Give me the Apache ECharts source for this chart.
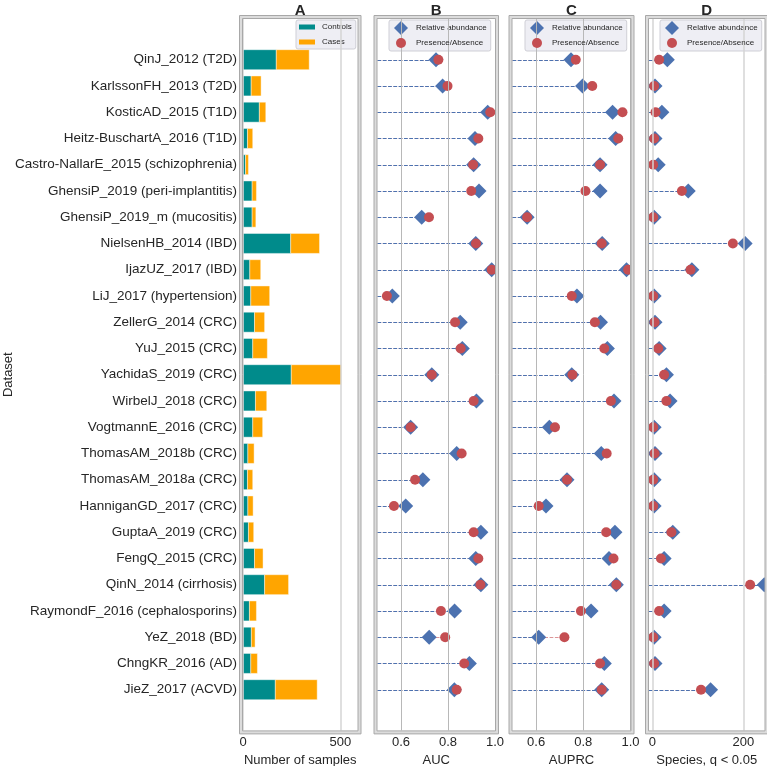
<!DOCTYPE html>
<html><head><meta charset="utf-8">
<script src="https://cdn.jsdelivr.net/npm/echarts@6/dist/echarts.min.js"></script>
<style>html,body{margin:0;padding:0;background:#fff}#c{width:767px;height:766px}</style>
</head><body><div id="c"></div>
<script>
// ---------- data ----------
const datasets = ['QinJ_2012 (T2D)','KarlssonFH_2013 (T2D)','KosticAD_2015 (T1D)','Heitz-BuschartA_2016 (T1D)',
  'Castro-NallarE_2015 (schizophrenia)','GhensiP_2019 (peri-implantitis)','GhensiP_2019_m (mucositis)',
  'NielsenHB_2014 (IBD)','IjazUZ_2017 (IBD)','LiJ_2017 (hypertension)','ZellerG_2014 (CRC)','YuJ_2015 (CRC)',
  'YachidaS_2019 (CRC)','WirbelJ_2018 (CRC)','VogtmannE_2016 (CRC)','ThomasAM_2018b (CRC)','ThomasAM_2018a (CRC)',
  'HanniganGD_2017 (CRC)','GuptaA_2019 (CRC)','FengQ_2015 (CRC)','QinN_2014 (cirrhosis)',
  'RaymondF_2016 (cephalosporins)','YeZ_2018 (BD)','ChngKR_2016 (AD)','JieZ_2017 (ACVD)'];
const controls = [171, 42, 84, 23, 13, 47, 47, 245, 35, 40, 59, 50, 248, 64, 50, 25, 23, 25, 28, 59, 111, 33, 43, 40, 166];
const cases    = [169, 51, 33, 27, 15, 22, 19, 148, 56, 97, 52, 75, 256, 58, 51, 32, 27, 27, 27, 44, 123, 36, 19, 34, 215];
const aucRA = [0.749,0.777,0.969,0.915,0.909,0.932,0.688,0.918,0.986,0.563,0.852,0.861,0.731,0.921,0.641,0.837,0.693,0.620,0.940,0.918,0.940,0.828,0.720,0.891,0.827];
const aucPA = [0.759,0.798,0.980,0.929,0.907,0.899,0.719,0.919,0.986,0.540,0.830,0.854,0.731,0.909,0.641,0.858,0.660,0.570,0.909,0.929,0.938,0.770,0.788,0.869,0.837];
const auprcRA = [0.748,0.797,0.924,0.937,0.871,0.871,0.562,0.880,0.983,0.773,0.873,0.902,0.751,0.930,0.656,0.876,0.731,0.642,0.934,0.909,0.940,0.833,0.611,0.889,0.878];
const auprcPA = [0.768,0.838,0.966,0.948,0.871,0.809,0.562,0.878,0.990,0.751,0.849,0.889,0.754,0.917,0.680,0.899,0.731,0.611,0.897,0.928,0.940,0.790,0.720,0.871,0.878];
const speciesRA = [33, 6, 21, 6, 13, 79, 4, 204, 87, 4, 6, 15, 31, 39, 4, 6, 4, 4, 45, 26, 246, 26, 4, 6, 128];
const speciesPA = [15, 4, 7, 4, 2, 65, 2, 177, 84, 2, 5, 13, 26, 31, 2, 5, 2, 2, 42, 19, 215, 15, 2, 4, 107];
const panelTitles = ['A','B','C','D'];
const xNames = ['Number of samples','AUC','AUPRC','Species, q < 0.05'];
const xTicks = [[0,500],[0.6,0.8,1.0],[0.6,0.8,1.0],[0,200]];
const legendBars = ['Controls','Cases'];
const legendMarks = ['Relative abundance','Presence/Absence'];

// ---------- layout / style ----------
const FONT = "'Liberation Sans', Arial, Helvetica, sans-serif";
const TXT = '#262626';
const TEAL = '#008b8b', ORANGE = '#ffa500', BLUE = '#4c72b0', RED = '#c44e52';
const DIAMOND = 'path://M0,-1L1,0L0,1L-1,0Z';
const N = datasets.length;
const ROW_H = 26.25, PAD = 1.55, TOP = 19;
const H = ROW_H * (N - 1 + 2 * PAD);
const panels = [
  {left: 243,   width: 114.5, min: 0,     max: 588,   grid: '#d4d4d4', gw: 1.5, dec: 0},
  {left: 377.5, width: 117.5, min: 0.5,   max: 1.0,   grid: '#b8b8b8', gw: 1,   dec: 1},
  {left: 512.5, width: 118,   min: 0.5,   max: 1.0,   grid: '#b8b8b8', gw: 1,   dec: 1},
  {left: 649,   width: 115.5, min: -7.25, max: 246.5, grid: '#d4d4d4', gw: 1.5, dec: 0}
];
const legendLeft = [296, 389, 525, 660];

const grids = panels.map(p => ({left: p.left, width: p.width, top: TOP, height: H, containLabel: false, outerBoundsMode: 'none'}));
grids.push({left: panels[0].left, width: panels[0].width, top: TOP + (PAD - 0.5) * ROW_H, height: N * ROW_H,
  containLabel: false, outerBoundsMode: 'none'});

const xAxes = panels.map((p, k) => ({
  gridIndex: k, type: 'value', min: p.min, max: p.max,
  axisLine: {show: false}, axisTick: {show: false}, splitLine: {show: false},
  axisLabel: {customValues: xTicks[k], formatter: v => v.toFixed(p.dec), fontSize: 13, color: TXT, margin: 6, fontFamily: FONT},
  name: xNames[k], nameLocation: 'middle', nameGap: 19,
  nameTextStyle: {fontSize: 13, color: TXT, fontFamily: FONT}
}));
xAxes.push({gridIndex: 4, type: 'value', show: false});

const yAxes = panels.map((p, k) => ({
  gridIndex: k, type: 'value', min: -PAD, max: N - 1 + PAD, inverse: true, show: false
}));
yAxes.push({gridIndex: 4, type: 'category', data: datasets, inverse: true,
  axisLine: {show: false}, axisTick: {show: false}, splitLine: {show: false},
  axisLabel: {fontSize: 13.5, color: TXT, margin: 6, fontFamily: FONT}});

const series = [];
// gridlines
panels.forEach((p, k) => {
  series.push({type: 'scatter', xAxisIndex: k, yAxisIndex: k, data: [], z: 0, silent: true,
    markLine: {silent: true, symbol: 'none', label: {show: false},
      lineStyle: {color: p.grid, width: p.gw, type: 'solid'},
      data: xTicks[k].map(v => ({xAxis: v}))}});
});
// panel A stacked bars
function barItem(color) {
  return function (params, api) {
    const i = api.value(0), s = api.value(1), e = api.value(2);
    const a = api.coord([s, i]), b = api.coord([e, i]);
    const h = api.size([0, 0.76])[1];
    return {type: 'rect', shape: {x: a[0], y: a[1] - h / 2, width: b[0] - a[0], height: h},
      style: {fill: color, stroke: 'rgba(255,255,255,0.55)', lineWidth: 0.8}};
  };
}
series.push({name: legendBars[0], type: 'custom', xAxisIndex: 0, yAxisIndex: 0, itemStyle: {color: TEAL},
  renderItem: barItem(TEAL), data: controls.map((c, i) => [i, 0, c]), z: 2});
series.push({name: legendBars[1], type: 'custom', xAxisIndex: 0, yAxisIndex: 0, itemStyle: {color: ORANGE},
  renderItem: barItem(ORANGE), data: cases.map((c, i) => [i, controls[i], controls[i] + c]), z: 2});

// panels B-D
function dashItem(xmin, color, op) {
  return function (params, api) {
    const i = api.value(0), v = api.value(1);
    const a = api.coord([xmin, i]), b = api.coord([v, i]);
    const y = Math.round(a[1]) + 0.5;
    return {type: 'line', shape: {x1: a[0], y1: y, x2: b[0], y2: y},
      style: {stroke: color, lineWidth: 1, lineDash: [3.7, 1.6], opacity: op}};
  };
}
const pairs = [[aucRA, aucPA], [auprcRA, auprcPA], [speciesRA, speciesPA]];
pairs.forEach((pr, j) => {
  const k = j + 1, p = panels[k];
  series.push({type: 'custom', xAxisIndex: k, yAxisIndex: k, silent: true, z: 1,
    renderItem: dashItem(p.min, RED, 0.6), data: pr[1].map((v, i) => [i, v])});
  series.push({type: 'custom', xAxisIndex: k, yAxisIndex: k, silent: true, z: 1,
    renderItem: dashItem(p.min, BLUE, 1), data: pr[0].map((v, i) => [i, v])});
  series.push({name: legendMarks[0], type: 'scatter', xAxisIndex: k, yAxisIndex: k, symbol: DIAMOND, symbolSize: 15,
    itemStyle: {color: BLUE, opacity: 1}, z: 3, data: pr[0].map((v, i) => [v, i])});
  series.push({name: legendMarks[1], type: 'scatter', xAxisIndex: k, yAxisIndex: k, symbol: 'circle', symbolSize: 10,
    itemStyle: {color: RED, opacity: 1}, z: 4, data: pr[1].map((v, i) => [v, i])});
});

// legends
const LBG = '#eeeef4', LBD = '#cfcfd6';
const legends = [{
  data: legendBars.map(n => ({name: n, icon: 'rect'})), orient: 'vertical', left: legendLeft[0], top: 20,
  itemWidth: 16, itemHeight: 5, itemGap: 5, padding: [2, 4, 2, 3], selectedMode: false,
  textStyle: {fontSize: 8, lineHeight: 10, color: TXT, fontFamily: FONT, padding: [0, 0, 0, 2]},
  backgroundColor: LBG, borderColor: LBD, borderWidth: 1, borderRadius: 2
}];
[1, 2, 3].forEach(k => {
  legends.push({data: [{name: legendMarks[0], icon: DIAMOND}], left: legendLeft[k], top: 20,
    itemWidth: 14, itemHeight: 14, padding: [1, 4, 16, 5], selectedMode: false,
    textStyle: {fontSize: 8, color: TXT, fontFamily: FONT, padding: [0, 0, 0, 3]},
    backgroundColor: LBG, borderColor: LBD, borderWidth: 1, borderRadius: 2, z: 5});
  legends.push({data: [{name: legendMarks[1], icon: 'circle'}], left: legendLeft[k] + 7, top: 38,
    itemWidth: 10, itemHeight: 10, padding: 0, selectedMode: false,
    textStyle: {fontSize: 8, color: TXT, fontFamily: FONT, padding: [0, 0, 0, 5]}, z: 6});
});

// titles
const titles = panels.map((p, k) => ({
  text: panelTitles[k], left: p.left + p.width / 2, top: 3, textAlign: 'center', padding: 0,
  textStyle: {fontSize: 15, fontWeight: 'bold', color: TXT, fontFamily: FONT}
}));

// frames
const graphics = [];
panels.forEach(p => {
  const l = p.left, t = TOP, w = p.width, h = H;
  graphics.push({type: 'rect', z: 100, silent: true, shape: {x: l - 2, y: t - 2, width: w + 4, height: h + 4},
    style: {fill: 'none', stroke: '#dcdcdc', lineWidth: 3}});
  graphics.push({type: 'rect', z: 101, silent: true, shape: {x: l - 3.5, y: t - 3.5, width: w + 7, height: h + 7},
    style: {fill: 'none', stroke: '#a8a8a8', lineWidth: 1}});
  graphics.push({type: 'rect', z: 101, silent: true, shape: {x: l - 0.5, y: t - 0.5, width: w + 1, height: h + 1},
    style: {fill: 'none', stroke: '#a8a8a8', lineWidth: 1}});
});
graphics.push({type: 'text', z: 100, x: 8, y: TOP + H / 2, rotation: Math.PI / 2,
  style: {text: 'Dataset', font: '13px ' + FONT, fill: TXT, align: 'center', verticalAlign: 'middle'}});

const chart = echarts.init(document.getElementById('c'), null, {renderer: 'canvas'});
chart.setOption({
  animation: false,
  backgroundColor: '#ffffff',
  textStyle: {fontFamily: FONT},
  title: titles,
  legend: legends,
  grid: grids,
  xAxis: xAxes,
  yAxis: yAxes,
  series: series,
  graphic: graphics
});
</script></body></html>
